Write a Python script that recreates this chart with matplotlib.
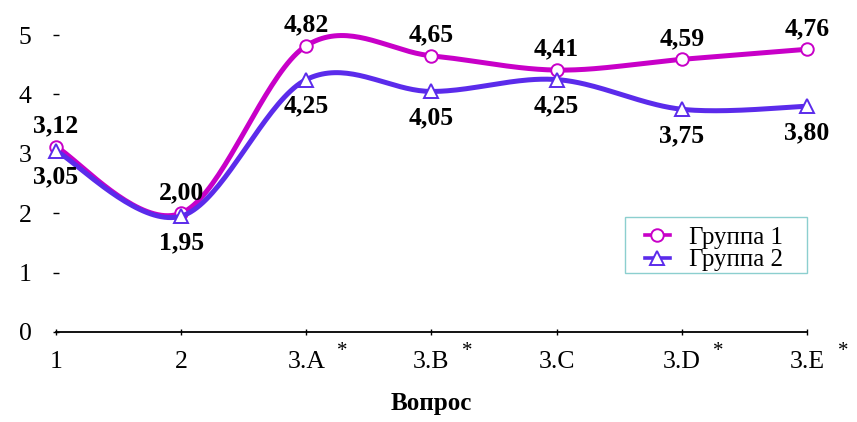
import numpy as np
import matplotlib.pyplot as plt
from matplotlib.patches import Rectangle
from matplotlib.transforms import blended_transform_factory

plt.rcParams['font.family'] = ['Liberation Serif', 'DejaVu Serif']

questions = ['1', '2', '3.A', '3.B', '3.C', '3.D', '3.E']
starred = [False, False, True, True, False, True, True]
group1 = [3.12, 2.00, 4.82, 4.65, 4.41, 4.59, 4.76]
group2 = [3.05, 1.95, 4.25, 4.05, 4.25, 3.75, 3.80]
series_names = ['Группа 1', 'Группа 2']
y_ticks = [0, 1, 2, 3, 4, 5]


def smooth(y, n=40):
    # excel-like smoothed line: bezier segments with catmull-rom control points
    x = np.arange(len(y), dtype=float)
    y = np.asarray(y, dtype=float)
    px = np.concatenate([[x[0]], x, [x[-1]]])
    py = np.concatenate([[y[0]], y, [y[-1]]])
    t = np.linspace(0, 1, n, endpoint=False)[:, None]
    xs, ys = [], []
    for i in range(len(y) - 1):
        p0 = np.array([px[i + 1], py[i + 1]])
        p3 = np.array([px[i + 2], py[i + 2]])
        p1 = p0 + (p3 - np.array([px[i], py[i]])) / 6
        p2 = p3 - (np.array([px[i + 3], py[i + 3]]) - p0) / 6
        seg = ((1 - t) ** 3 * p0 + 3 * (1 - t) ** 2 * t * p1
               + 3 * (1 - t) * t ** 2 * p2 + t ** 3 * p3)
        xs.extend(seg[:, 0])
        ys.extend(seg[:, 1])
    xs.append(x[-1])
    ys.append(y[-1])
    return np.array(xs), np.array(ys), list(range(0, len(xs), n))


fig = plt.figure(figsize=(8.57, 4.22), dpi=100)
ax = fig.add_axes([0.0653, 0.2133, 0.8763, 0.7037])

styles = [
    dict(color='#C800C8', marker='o', ms=9),
    dict(color='#5B2BEB', marker='^', ms=10),
]
for vals, name, st in zip([group1, group2], series_names, styles):
    sx, sy, every = smooth(vals)
    ax.plot(sx, sy, color=st['color'], lw=3.6, marker=st['marker'], ms=st['ms'],
            markevery=every, mfc='white', mec=st['color'], mew=1.4,
            label=name, clip_on=False, zorder=3)

for i, v in enumerate(group1):
    ax.annotate(f'{v:.2f}'.replace('.', ','), (i, v), xytext=(0, 15),
                textcoords='offset points', ha='center', va='center',
                fontsize=18.5, fontweight='bold')
for i, v in enumerate(group2):
    ax.annotate(f'{v:.2f}'.replace('.', ','), (i, v), xytext=(0, -19),
                textcoords='offset points', ha='center', va='center',
                fontsize=18.5, fontweight='bold')

ax.set_xlim(0, len(questions) - 1)
ax.set_ylim(0, 5)
ax.set_xticks(range(len(questions)))
ax.set_xticklabels(questions, fontsize=18.5)
ax.set_yticks(y_ticks)
ax.set_yticklabels([str(v) for v in y_ticks], fontsize=18.5)

for side in ['left', 'top', 'right']:
    ax.spines[side].set_visible(False)
ax.spines['bottom'].set_linewidth(1.3)
ax.tick_params(axis='x', direction='inout', length=5, width=1, pad=11)
ax.tick_params(axis='y', direction='inout', length=5, width=1, pad=15)

trans = blended_transform_factory(ax.transData, ax.transAxes)
for i, s in enumerate(starred):
    if s:
        ax.annotate('*', (i, 0), xycoords=trans, xytext=(26, -14),
                    textcoords='offset points', ha='center', va='center',
                    fontsize=15)

ax.set_xlabel('Вопрос', fontsize=18, fontweight='bold', labelpad=14)

# legend without its own frame; the box is drawn separately so the
# horizontal padding can be wider than the vertical one
leg = ax.legend(loc='upper left', bbox_to_anchor=(0.7526, 0.4633),
                bbox_transform=fig.transFigure, borderaxespad=0, borderpad=0,
                frameon=False, fontsize=18, handlelength=1.0,
                handletextpad=0.75, labelspacing=0.0)
for h in leg.legend_handles:
    h.set_linewidth(2.6)
fig.patches.append(Rectangle((0.7293, 0.3531), 0.2124, 0.1327,
                             transform=fig.transFigure, fill=False,
                             edgecolor='#8ccfcf', linewidth=1.0))

fig.savefig('out.png', dpi=100)
